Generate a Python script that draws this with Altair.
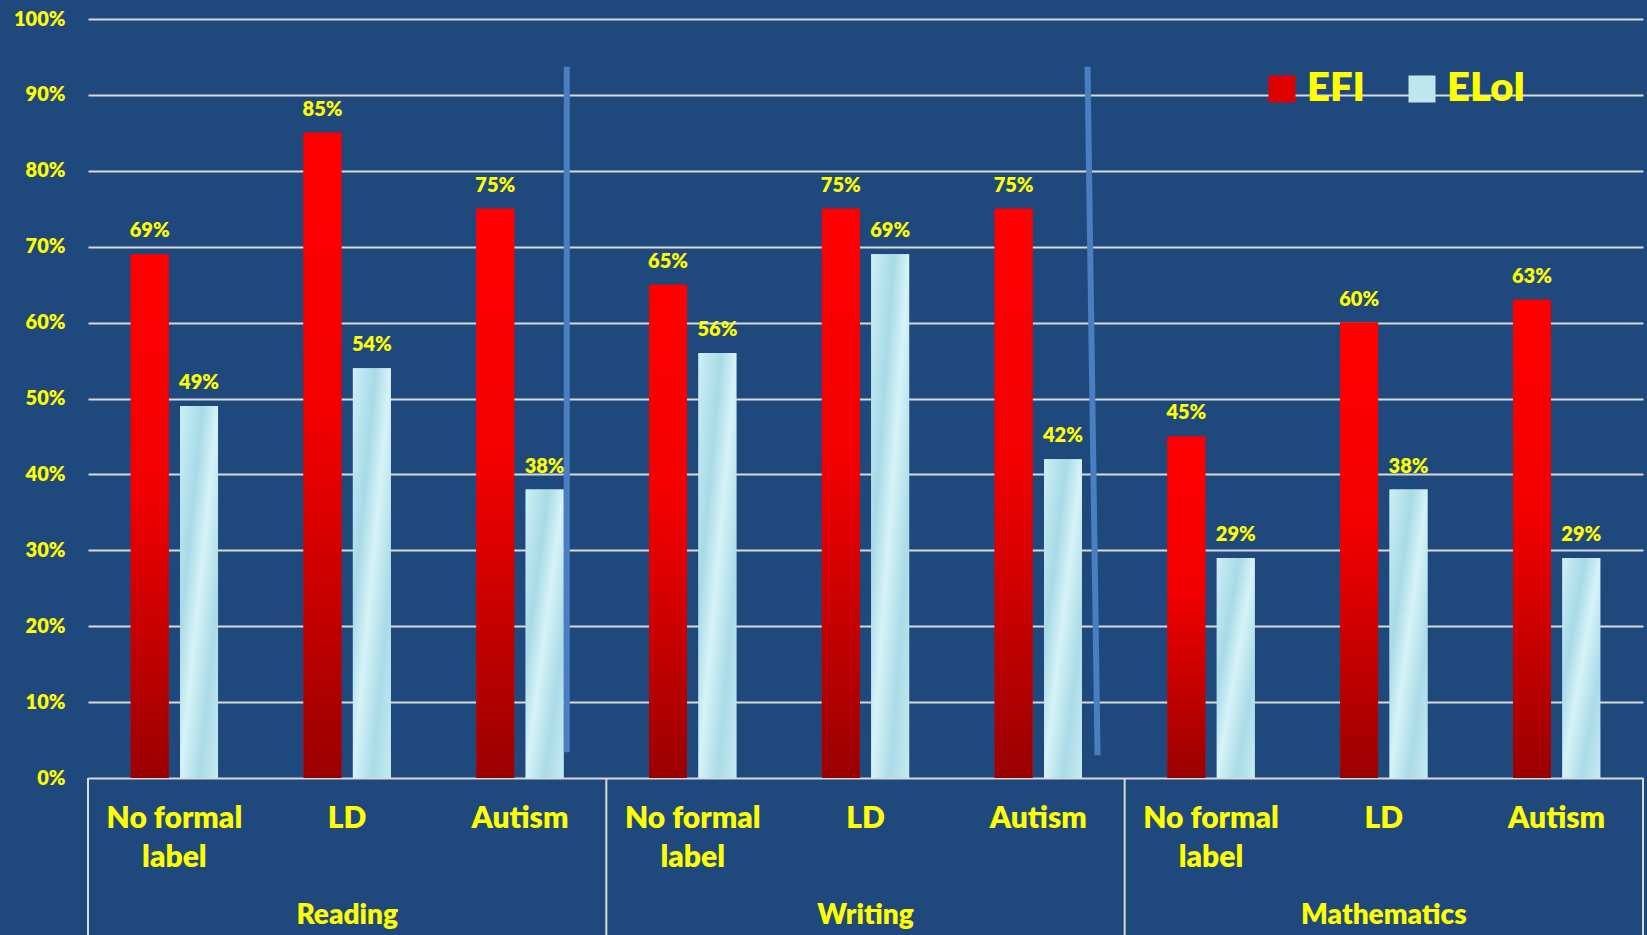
import altair as alt
import pandas as pd

# ---------------- data ----------------
subjects = ["Reading", "Writing", "Mathematics"]
labels = ["No formal label", "LD", "Autism"]
label_line1 = ["No formal", "LD", "Autism"]
label_line2 = ["label", "", ""]
series = ["EFI", "ELoI"]
efi = [0.69, 0.85, 0.75, 0.65, 0.75, 0.75, 0.45, 0.60, 0.63]
eloi = [0.49, 0.54, 0.38, 0.56, 0.69, 0.42, 0.29, 0.38, 0.29]
y_ticks = [0, 0.1, 0.2, 0.3, 0.4, 0.5, 0.6, 0.7, 0.8, 0.9, 1.0]

# decorative separator lines (drawn on the slide between groups)
sep_keys = ["Reading|Autism", "Writing|Autism"]
sep_top_pos = [0.771, 0.785]
sep_bot_pos = [0.771, 0.843]
sep_top = [0.937, 0.937]
sep_bot = [0.034, 0.030]

keys = [f"{s}|{l}" for s in subjects for l in labels]

rows = []
i = 0
for s in subjects:
    for j, l in enumerate(labels):
        k = f"{s}|{l}"
        rows.append({"key": k, "series": "EFI", "value": efi[i]})
        rows.append({"key": k, "series": "ELoI", "value": eloi[i]})
        i += 1
df = pd.DataFrame(rows)

cat_rows = []
for s in subjects:
    for j, l in enumerate(labels):
        cat_rows.append({"key": f"{s}|{l}", "l1": label_line1[j], "l2": label_line2[j]})
cat_df = pd.DataFrame(cat_rows)

grp_df = pd.DataFrame({"key": [f"{s}|{labels[1]}" for s in subjects], "subject": subjects})
box_df = pd.DataFrame({"key": [f"{s}|{labels[0]}" for s in subjects]})
box_end_df = pd.DataFrame({"key": [keys[-1]]})

W, H = 1555, 759
YELLOW = "#FFFF00"
FONT = "Lato"
WEIGHT = 800

xs = alt.X("key:N", sort=keys, axis=None,
           scale=alt.Scale(paddingInner=0, paddingOuter=0))
xoff = alt.XOffset("series:N", sort=series,
                   scale=alt.Scale(paddingInner=0.232, paddingOuter=0.866))
ys = alt.Y("value:Q", scale=alt.Scale(domain=[0, 1]),
           axis=alt.Axis(values=y_ticks, format=".0%", title=None, domain=False,
                         ticks=False, grid=True, gridColor="#D9D9D9", gridWidth=2,
                         labelColor=YELLOW, labelFont=FONT, labelFontWeight=WEIGHT,
                         labelFontSize=20, labelPadding=23))

base = alt.Chart(df)

legend_bars = base.mark_bar().encode(
    x=xs, xOffset=xoff, y=ys,
    color=alt.Color("series:N", sort=series,
                    scale=alt.Scale(domain=series, range=["#E00000", "#BFE6EE"]),
                    legend=alt.Legend(title=None, orient="none", legendX=1174, legendY=50,
                                      direction="horizontal", symbolType="square",
                                      symbolSize=729, symbolStrokeWidth=0,
                                      labelFontSize=40, labelColor=YELLOW, labelFont=FONT,
                                      labelFontWeight=WEIGHT, labelOffset=5,
                                      columnPadding=36)),
)

efi_grad = {"gradient": "linear", "x1": 0, "y1": 0, "x2": 0, "y2": 1,
            "stops": [{"offset": 0, "color": "#FF0000"},
                      {"offset": 0.45, "color": "#F20000"},
                      {"offset": 1, "color": "#9A0000"}]}
eloi_grad = {"gradient": "linear", "x1": 0, "y1": 0, "x2": 1, "y2": 1,
             "stops": [{"offset": 0, "color": "#CDEFF6"},
                       {"offset": 0.3, "color": "#A8DAE6"},
                       {"offset": 0.5, "color": "#D6F3F8"},
                       {"offset": 0.75, "color": "#AADBE6"},
                       {"offset": 1, "color": "#C6EAF2"}]}

efi_bars = base.transform_filter(alt.datum.series == "EFI").mark_bar(fill=efi_grad).encode(
    x=xs, xOffset=xoff, y=ys)
eloi_bars = base.transform_filter(alt.datum.series == "ELoI").mark_bar(fill=eloi_grad).encode(
    x=xs, xOffset=xoff, y=ys)

value_labels = base.mark_text(font=FONT, fontWeight=WEIGHT, fontSize=20, color=YELLOW,
                              baseline="alphabetic", dy=-17).encode(
    x=xs, xOffset=xoff, y=ys, text=alt.Text("value:Q", format=".0%"))

line1 = alt.Chart(cat_df).mark_text(font=FONT, fontWeight=WEIGHT, fontSize=30, color=YELLOW,
                                     baseline="middle").encode(
    x=xs, y=alt.value(H + 41), text="l1:N")
line2 = alt.Chart(cat_df).mark_text(font=FONT, fontWeight=WEIGHT, fontSize=30, color=YELLOW,
                                     baseline="middle").encode(
    x=xs, y=alt.value(H + 80), text="l2:N")
grp = alt.Chart(grp_df).mark_text(font=FONT, fontWeight=WEIGHT, fontSize=28, color=YELLOW,
                                   baseline="middle").encode(
    x=xs, y=alt.value(H + 138), text="subject:N")

box_lines = alt.Chart(box_df).mark_rule(color="#D9D9D9", strokeWidth=2).encode(
    x=alt.X("key:N", sort=keys, axis=None, bandPosition=0,
            scale=alt.Scale(paddingInner=0, paddingOuter=0)),
    y=alt.value(H), y2=alt.value(H + 160))
box_end = alt.Chart(box_end_df).mark_rule(color="#D9D9D9", strokeWidth=2).encode(
    x=alt.X("key:N", sort=keys, axis=None, bandPosition=1,
            scale=alt.Scale(paddingInner=0, paddingOuter=0)),
    y=alt.value(H), y2=alt.value(H + 160))

seps = []
for k, t, b, tp, bp in zip(sep_keys, sep_top, sep_bot, sep_top_pos, sep_bot_pos):
    d = pd.DataFrame({"key": [k], "top": [t], "bot": [b]})
    seps.append(alt.Chart(d).mark_rule(color="#4A7EC0", strokeWidth=6, strokeCap="butt").encode(
        x=alt.X("key:N", sort=keys, axis=None, bandPosition=tp,
                scale=alt.Scale(paddingInner=0, paddingOuter=0)),
        x2=alt.X2("key:N", bandPosition=bp),
        y=alt.Y("top:Q", scale=alt.Scale(domain=[0, 1])),
        y2="bot:Q"))

chart = alt.layer(
    legend_bars, efi_bars, eloi_bars, value_labels, *seps,
    line1, line2, grp, box_lines, box_end
).properties(
    width=W, height=H,
    padding={"left": 88, "top": 19, "right": 4, "bottom": 157},
    autosize=alt.AutoSizeParams(type="none"),
    background="#1F497D",
).configure_view(stroke=None)

chart.save("out.html", embed_options={"renderer": "svg", "actions": False})
